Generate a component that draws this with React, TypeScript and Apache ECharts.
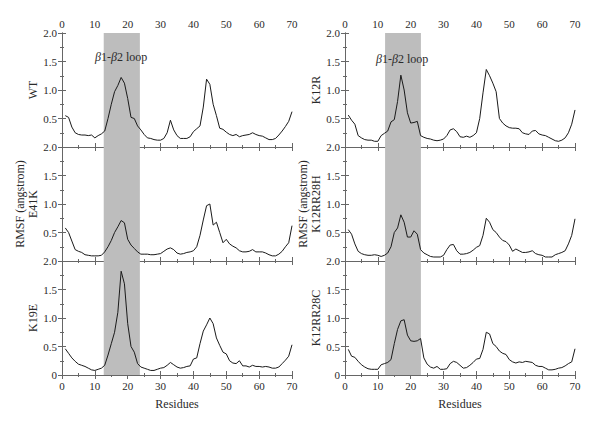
import React, { useEffect, useRef } from "react";
import * as echarts from "echarts";

const residues = Array.from({ length: 70 }, (_, i) => i + 1);
const xTicks = [0, 10, 20, 30, 40, 50, 60, 70];
const yTicks = [0, 0.5, 1.0, 1.5, 2.0];

const WT = [
  0.55, 0.52, 0.35, 0.25, 0.22, 0.21, 0.21, 0.2, 0.21, 0.16,
  0.2, 0.23, 0.28, 0.5, 0.75, 0.97, 1.08, 1.22, 1.12, 0.85,
  0.52, 0.5, 0.37, 0.3, 0.22, 0.16, 0.15, 0.13, 0.12, 0.12,
  0.15, 0.25, 0.47, 0.3, 0.2, 0.15, 0.15, 0.15, 0.18, 0.27,
  0.32, 0.37, 0.7, 1.19, 1.1, 0.75, 0.55, 0.33, 0.31, 0.26,
  0.22, 0.2, 0.22, 0.18, 0.2, 0.21, 0.22, 0.25, 0.22, 0.2,
  0.19, 0.16, 0.13, 0.13, 0.15, 0.21, 0.28, 0.36, 0.45, 0.62,
];
const K12R = [
  0.56, 0.47, 0.4, 0.2, 0.16, 0.13, 0.12, 0.12, 0.1, 0.1,
  0.2, 0.24, 0.28, 0.44, 0.48, 0.8, 1.26, 1.0, 0.6, 0.42,
  0.43, 0.45, 0.2, 0.17, 0.15, 0.14, 0.12, 0.11, 0.12, 0.14,
  0.2, 0.3, 0.32, 0.27, 0.18, 0.17, 0.19, 0.17, 0.2, 0.25,
  0.5, 0.95, 1.36, 1.25, 1.12, 0.97, 0.5, 0.42, 0.37, 0.34,
  0.33, 0.33, 0.32, 0.25, 0.23, 0.22, 0.28, 0.29, 0.23, 0.21,
  0.2, 0.17, 0.14, 0.11, 0.1, 0.12, 0.16, 0.25, 0.4, 0.65,
];
const E41K = [
  0.58, 0.5, 0.35, 0.2, 0.17, 0.15, 0.11, 0.1, 0.09, 0.09,
  0.09, 0.1, 0.16, 0.25, 0.36, 0.5, 0.6, 0.71, 0.67, 0.38,
  0.28, 0.22, 0.16, 0.12, 0.12, 0.12, 0.11, 0.11, 0.12, 0.13,
  0.17, 0.21, 0.23, 0.2, 0.14, 0.12, 0.13, 0.15, 0.16, 0.18,
  0.25, 0.45, 0.72, 0.97, 1.0, 0.63, 0.68, 0.5, 0.32, 0.38,
  0.3, 0.26, 0.23, 0.18, 0.16, 0.16, 0.17, 0.2, 0.16, 0.16,
  0.16, 0.14, 0.11, 0.09, 0.09, 0.12, 0.17, 0.25, 0.32, 0.62,
];
const K12RR28H = [
  0.55, 0.47, 0.3, 0.17, 0.13, 0.11, 0.1, 0.1, 0.11, 0.1,
  0.08, 0.1, 0.14, 0.25, 0.5, 0.58, 0.81, 0.68, 0.42, 0.42,
  0.53, 0.47, 0.2, 0.14, 0.11, 0.08, 0.07, 0.07, 0.07, 0.1,
  0.2, 0.28, 0.29, 0.18, 0.12, 0.12, 0.13, 0.15, 0.19, 0.24,
  0.27, 0.45, 0.75, 0.68, 0.55, 0.5, 0.42, 0.36, 0.34, 0.28,
  0.17, 0.21, 0.18, 0.15, 0.15, 0.16, 0.18, 0.13, 0.11, 0.1,
  0.07, 0.07, 0.07, 0.11, 0.13, 0.15, 0.18, 0.3, 0.45, 0.74,
];
const K19E = [
  0.46, 0.38, 0.3, 0.24, 0.19, 0.17, 0.15, 0.12, 0.09, 0.08,
  0.1, 0.12, 0.17, 0.35, 0.55, 0.75, 1.1, 1.82, 1.6, 0.9,
  0.5, 0.4, 0.2, 0.14, 0.12, 0.1, 0.08, 0.08, 0.1, 0.12,
  0.13, 0.17, 0.22, 0.18, 0.14, 0.12, 0.13, 0.15, 0.16, 0.28,
  0.3, 0.55, 0.77, 0.88, 1.0, 0.9, 0.65, 0.52, 0.4, 0.37,
  0.25, 0.21, 0.2, 0.25, 0.16, 0.16, 0.14, 0.17, 0.15, 0.15,
  0.14, 0.15, 0.14, 0.12, 0.12, 0.14, 0.2, 0.26, 0.33, 0.53,
];
const K12RR28C = [
  0.45, 0.33, 0.31, 0.24, 0.18, 0.14, 0.11, 0.1, 0.1, 0.1,
  0.18, 0.2, 0.22, 0.27, 0.55, 0.8, 0.95, 0.97, 0.7, 0.6,
  0.59, 0.6, 0.64, 0.3, 0.19, 0.14, 0.12, 0.15, 0.1, 0.1,
  0.11, 0.2, 0.24, 0.22, 0.17, 0.12, 0.13, 0.17, 0.22, 0.28,
  0.29, 0.45, 0.75, 0.72, 0.55, 0.5, 0.42, 0.38, 0.36, 0.27,
  0.23, 0.21, 0.23, 0.22, 0.24, 0.23, 0.22, 0.17, 0.15, 0.15,
  0.12, 0.09, 0.09, 0.1, 0.12, 0.13, 0.16, 0.2, 0.23, 0.46,
];

const panelNames = [
  "WT",
  "K12R",
  "RMSF (angstrom)\nE41K",
  "RMSF (angstrom)\nK12RR28H",
  "K19E",
  "K12RR28C",
];
const panelValues = [WT, K12R, E41K, K12RR28H, K19E, K12RR28C];
const loopRange = [
  [12.7, 23.7],
  [12.2, 23.1],
];
const loopLabelPos = [
  [18, 1.58],
  [17.4, 1.54],
];
const loopLabel = "{i|β}1-{i|β}2 loop";
const xName = "Residues";

const FONT = "'Liberation Serif', 'DejaVu Serif', serif";
const AXIS_COLOR = "#666";
const TEXT_COLOR = "#2a2a2a";

export default function App() {
  const ref = useRef<HTMLDivElement>(null);

  useEffect(() => {
    if (!ref.current) return;
    const chart = echarts.init(ref.current, null, { renderer: "svg" });

    const colLeft = [62, 345];
    const rowTop = [33, 147, 261];
    const W = 230;
    const H = 114;

    const grids: any[] = [];
    const xAxes: any[] = [];
    const yAxes: any[] = [];
    const series: any[] = [];

    const baseAxis = {
      axisLine: { show: true, lineStyle: { color: AXIS_COLOR, width: 1 } },
      axisTick: { show: true, inside: true, length: 4, lineStyle: { color: AXIS_COLOR } },
      minorTick: { show: true, splitNumber: 2, length: 2, lineStyle: { color: AXIS_COLOR } },
      splitLine: { show: false },
    };

    panelValues.forEach((vals, p) => {
      const col = p % 2;
      const row = Math.floor(p / 2);
      grids.push({ left: colLeft[col], top: rowTop[row], width: W, height: H, containLabel: false });

      const xBase = {
        ...baseAxis,
        type: "value",
        min: xTicks[0],
        max: xTicks[xTicks.length - 1],
        interval: 10,
        gridIndex: p,
      };
      xAxes.push({
        ...xBase,
        position: "bottom",
        name: row === 2 ? xName : "",
        nameLocation: "middle",
        nameGap: 23,
        nameTextStyle: { fontFamily: FONT, fontSize: 12, color: TEXT_COLOR },
        axisLabel: {
          show: row === 2,
          margin: 5,
          fontFamily: FONT,
          fontSize: 11,
          color: TEXT_COLOR,
        },
      });
      xAxes.push({
        ...xBase,
        position: "top",
        axisLabel: {
          show: row === 0,
          margin: 4,
          fontFamily: FONT,
          fontSize: 11,
          color: TEXT_COLOR,
        },
      });

      const yBase = {
        ...baseAxis,
        type: "value",
        min: yTicks[0],
        max: yTicks[yTicks.length - 1],
        interval: 0.5,
        gridIndex: p,
      };
      yAxes.push({
        ...yBase,
        position: "left",
        name: panelNames[p],
        nameLocation: "middle",
        nameGap: 17,
        nameTextStyle: { fontFamily: FONT, fontSize: 12, color: TEXT_COLOR, lineHeight: 13 },
        axisLabel: {
          show: true,
          margin: 5,
          showMinLabel: row === 2,
          fontFamily: FONT,
          fontSize: 11,
          color: TEXT_COLOR,
          formatter: (v: number) => (v === 0 ? "0" : v.toFixed(1)),
        },
      });
      yAxes.push({
        ...yBase,
        position: "right",
        axisLabel: { show: false },
      });

      const s: any = {
        type: "line",
        xAxisIndex: 2 * p,
        yAxisIndex: 2 * p,
        data: residues.map((r, i) => [r, vals[i]]),
        showSymbol: false,
        symbol: "none",
        lineStyle: { color: "#1a1a1a", width: 1 },
        z: 3,
        markArea: {
          silent: true,
          itemStyle: { color: "#bdbdbd" },
          data: [[{ xAxis: loopRange[col][0] }, { xAxis: loopRange[col][1] }]],
        },
      };
      if (row === 0) {
        s.markPoint = {
          silent: true,
          symbol: "rect",
          symbolSize: 0,
          data: [
            {
              coord: loopLabelPos[col],
              label: {
                show: true,
                position: "inside",
                formatter: loopLabel,
                fontFamily: FONT,
                fontSize: 12,
                color: TEXT_COLOR,
                rich: {
                  i: { fontFamily: FONT, fontSize: 12, fontStyle: "italic", color: TEXT_COLOR },
                },
              },
            },
          ],
        };
      }
      series.push(s);
    });

    chart.setOption({
      animation: false,
      backgroundColor: "#ffffff",
      grid: grids,
      xAxis: xAxes,
      yAxis: yAxes,
      series,
    });

    return () => chart.dispose();
  }, []);

  return (
    <div
      ref={ref}
      style={{ position: "absolute", left: 0, top: 0, width: 600, height: 426 }}
    />
  );
}
